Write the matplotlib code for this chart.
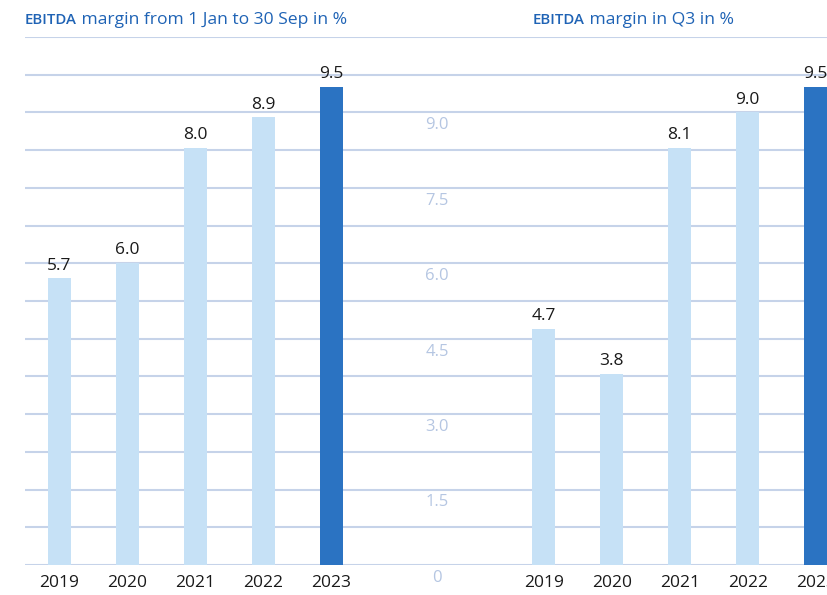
import matplotlib
matplotlib.use("Agg")
import matplotlib.pyplot as plt
import numpy as np

years = ["2019", "2020", "2021", "2022", "2023"]
ytd_values = [5.7, 6.0, 8.3, 8.9, 9.5]
ytd_labels = ["5.7", "6.0", "8.0", "8.9", "9.5"]
q3_values = [4.7, 3.8, 8.3, 9.0, 9.5]
q3_labels = ["4.7", "3.8", "8.1", "9.0", "9.5"]
ytick_values = [0, 1.5, 3.0, 4.5, 6.0, 7.5, 9.0]
ytick_labels = ["0", "1.5", "3.0", "4.5", "6.0", "7.5", "9.0"]
grid_values = np.arange(0, 10.51, 0.75)

FONT = "Open Sans"
LIGHT = "#c6e1f6"
DARK = "#2b73c2"
GRID = "#c6d3e9"
TICKC = "#b5c6e2"
TITLEC = "#1f63b5"
TEXTC = "#1a1a1a"

W, H = 828, 595
fig = plt.figure(figsize=(W / 100, H / 100), dpi=100)
ax = fig.add_axes([25 / W, (H - 565) / H, (W - 25) / W, (565 - 37) / H])

x1 = np.arange(5)
x2 = np.arange(5) + 7.12
colors = [LIGHT] * 4 + [DARK]
bw = 0.338

ax.bar(x1, ytd_values, width=bw, color=colors, zorder=3)
ax.bar(x2, q3_values, width=bw, color=colors, zorder=3)

ax.set_xlim(-0.507, 11.30)
ax.set_ylim(0, 10.5)
ax.set_yticks(grid_values)
ax.yaxis.grid(True, color=GRID, linewidth=1.5, zorder=1)
ax.set_axisbelow(True)
ax.tick_params(left=False, bottom=False, labelleft=False, labelbottom=False)
for s in ax.spines.values():
    s.set_visible(False)

for xs, vals, labs in ((x1, ytd_values, ytd_labels), (x2, q3_values, q3_labels)):
    for xv, v, lab in zip(xs, vals, labs):
        ax.annotate(lab, (xv, v), xytext=(0, 3.5), textcoords="offset points",
                    ha="center", va="bottom", fontsize=12.5, family=FONT,
                    color=TEXTC, zorder=4, annotation_clip=False)
    for xv, yr in zip(xs, years):
        ax.annotate(yr, (xv, 0), xytext=(0, -7.5), textcoords="offset points",
                    ha="center", va="top", fontsize=12.5, family=FONT,
                    color=TEXTC, annotation_clip=False)

for v, lab in zip(ytick_values, ytick_labels):
    ax.annotate(lab, (5.55, v), xytext=(0, -3.5), textcoords="offset points",
                ha="center", va="top", fontsize=12, family=FONT,
                color=TICKC, annotation_clip=False)

renderer = fig.canvas.get_renderer()
ybase = 1 - 24 / H
for xstart, rest in ((25, " margin from 1 Jan to 30 Sep in %"), (533, " margin in Q3 in %")):
    t = fig.text(xstart / W, ybase, "EBITDA", fontsize=10.8, family=FONT,
                 color=TITLEC, fontweight="semibold", va="baseline", ha="left")
    bb = t.get_window_extent(renderer=renderer)
    fig.text(bb.x1 / W, ybase, rest, fontsize=12.6, family=FONT,
             color=TITLEC, va="baseline", ha="left")

fig.savefig("out.png", dpi=100)
